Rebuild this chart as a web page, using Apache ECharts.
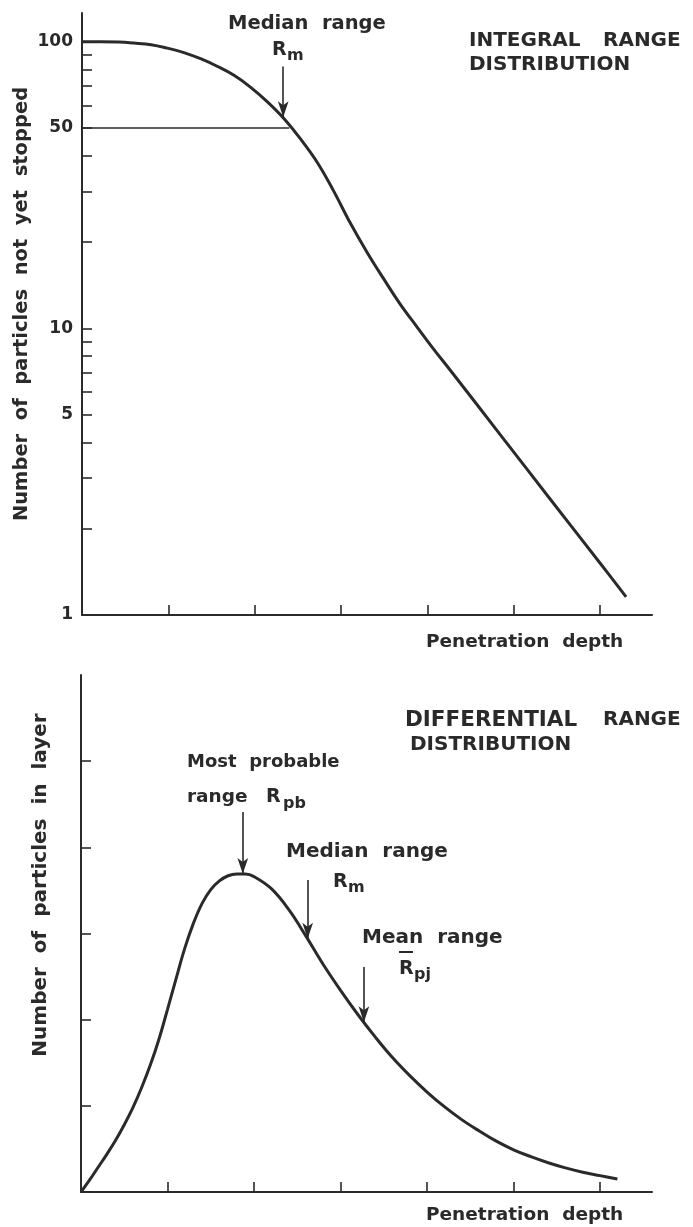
<!DOCTYPE html>
<html>
<head>
<meta charset="utf-8">
<script src="https://cdn.jsdelivr.net/npm/echarts@6/dist/echarts.min.js"></script>
<style>
  html, body { margin: 0; padding: 0; background: #ffffff; }
  #chart { width: 693px; height: 1227px; }
</style>
</head>
<body>
<div id="chart"></div>
<script>
// Integral range distribution: particles not yet stopped (log scale) vs penetration depth
const integralDepth = [0, 0.22, 0.42, 0.6, 0.8, 0.99, 1.18, 1.38, 1.57, 1.76, 1.95, 2.15, 2.34, 2.53, 2.73, 2.91, 3.1, 3.3,
                       3.49, 3.68, 3.88, 4.06, 4.26, 4.84, 5.42, 6.0, 6.3];
const integralCount = [100, 100, 99.8, 99.0, 97.7, 95.0, 91.7, 87.1, 82.0, 76.4, 69.5, 61.6, 53.9, 45.8, 37.7, 30.3, 23.5, 18.45,
                       14.94, 12.21, 10.11, 8.55, 7.17, 4.27, 2.54, 1.515, 1.157];

// Differential range distribution: particles stopped per layer vs penetration depth
const diffDepth = [0, 0.1, 0.2, 0.3, 0.4, 0.5, 0.6, 0.7, 0.8, 0.9, 1.0, 1.1, 1.2, 1.3, 1.4, 1.5, 1.6, 1.7, 1.8, 1.9, 2.0,
                   2.2, 2.4, 2.6, 2.8, 3.0, 3.2, 3.4, 3.6, 3.8, 4.0, 4.2, 4.4, 4.6, 4.8, 5.0, 5.2, 5.4, 5.6, 5.8, 6.0, 6.2];
const diffCount = [0, 0.14, 0.29, 0.44, 0.6, 0.78, 0.98, 1.21, 1.47, 1.77, 2.12, 2.48, 2.83, 3.12, 3.35, 3.51, 3.61, 3.67, 3.69, 3.69, 3.66,
                   3.52, 3.28, 2.97, 2.64, 2.34, 2.06, 1.8, 1.56, 1.35, 1.16, 0.99, 0.84, 0.71, 0.59, 0.49, 0.41, 0.34, 0.28, 0.23, 0.19, 0.15];

// Axis ticks and labels
const logTicks = [1, 2, 3, 4, 5, 6, 7, 8, 9, 10, 20, 30, 40, 50, 60, 70, 80, 90, 100];
const logLabels = [1, 5, 10, 50, 100];
const depthTicks = [1, 2, 3, 4, 5, 6];
const layerTicks = [1, 2, 3, 4, 5];

// Half level and where it meets the integral curve
const halfLevel = 50;
const halfDepth = 2.4;
// Arrows: depth, start value, value on the curve
const medianTop = { depth: 2.33, from: 82, to: 54.5 };
const rangeArrows = [
  { depth: 1.87, from: 4.41, to: 3.69 },  // most probable range
  { depth: 2.62, from: 3.62, to: 2.94 },  // median range
  { depth: 3.27, from: 2.61, to: 1.97 }   // mean range
];

const INK = '#2a2a2a';
const FONT = "'DejaVu Sans', sans-serif";

function pairs(xs, ys) { return xs.map((x, i) => [x, ys[i]]); }

function arrowLine(a) {
  return [
    { coord: [a.depth, a.from], symbol: 'none' },
    { coord: [a.depth, a.to], symbol: 'arrow', symbolSize: [8, 16] }
  ];
}

function txt(x, y, text, size, opts) {
  opts = opts || {};
  return {
    type: 'text', x: x, y: y, rotation: opts.rotation || 0, silent: true,
    style: {
      text: text, fill: INK,
      font: 'bold ' + size + 'px ' + FONT,
      textAlign: opts.align || 'left', textVerticalAlign: 'middle',
      align: opts.align || 'left', verticalAlign: 'middle'
    }
  };
}

const axisLineStyle = { color: INK, width: 2 };
const tickStyle = { color: INK, width: 1.6 };

const chart = echarts.init(document.getElementById('chart'), null, { renderer: 'canvas' });

chart.setOption({
  backgroundColor: '#ffffff',
  animation: false,
  grid: [
    { left: 82, right: 41, top: 13, bottom: 612 },
    { left: 81, right: 41, top: 675, bottom: 35 }
  ],
  xAxis: [0, 1].map(g => ({
    gridIndex: g, type: 'value', min: 0, max: 6.6,
    axisLine: { show: true, onZero: false, lineStyle: axisLineStyle },
    axisTick: { show: true, inside: true, length: 10, customValues: depthTicks, lineStyle: tickStyle },
    axisLabel: { show: false },
    splitLine: { show: false }
  })),
  yAxis: [
    {
      gridIndex: 0, type: 'log', logBase: 10, min: 1, max: 126,
      axisLine: { show: true, lineStyle: axisLineStyle },
      axisTick: { show: true, inside: true, length: 10, customValues: logTicks, lineStyle: tickStyle },
      axisLabel: {
        show: true, customValues: logLabels, margin: 9,
        color: INK, fontSize: 17, fontWeight: 'bold', fontFamily: FONT
      },
      splitLine: { show: false }, minorTick: { show: false }
    },
    {
      gridIndex: 1, type: 'value', min: 0, max: 6,
      axisLine: { show: true, lineStyle: axisLineStyle },
      axisTick: { show: true, inside: true, length: 10, customValues: layerTicks, lineStyle: tickStyle },
      axisLabel: { show: false },
      splitLine: { show: false }
    }
  ],
  series: [
    {
      type: 'line', xAxisIndex: 0, yAxisIndex: 0,
      data: pairs(integralDepth, integralCount),
      smooth: 0.4, showSymbol: false, silent: true,
      lineStyle: { color: INK, width: 3 },
      markLine: {
        silent: true, symbol: ['none', 'none'],
        label: { show: false },
        lineStyle: { color: INK, width: 1.6, type: 'solid' },
        data: [
          [{ coord: [0, halfLevel] }, { coord: [halfDepth, halfLevel] }],
          arrowLine(medianTop)
        ]
      }
    },
    {
      type: 'line', xAxisIndex: 1, yAxisIndex: 1,
      data: pairs(diffDepth, diffCount),
      smooth: 0.4, showSymbol: false, silent: true,
      lineStyle: { color: INK, width: 3 },
      markLine: {
        silent: true, symbol: ['none', 'none'],
        label: { show: false },
        lineStyle: { color: INK, width: 1.6, type: 'solid' },
        data: rangeArrows.map(arrowLine)
      }
    }
  ],
  graphic: [
    // upper panel
    txt(22, 304, 'Number  of  particles  not  yet  stopped', 19.5, { rotation: Math.PI / 2, align: 'center' }),
    txt(228, 24, 'Median  range', 19.5),
    txt(272, 50, 'R', 19),
    txt(287, 56, 'm', 16),
    txt(469, 41, 'INTEGRAL', 20),
    txt(603, 41, 'RANGE', 20),
    txt(469, 65, 'DISTRIBUTION', 20),
    txt(426, 642, 'Penetration  depth', 18.5),
    // lower panel
    txt(41, 885, 'Number  of  particles  in  layer', 20, { rotation: Math.PI / 2, align: 'center' }),
    txt(405, 720, 'DIFFERENTIAL', 21.5),
    txt(603, 720, 'RANGE', 20),
    txt(410, 745, 'DISTRIBUTION', 20),
    txt(187, 762, 'Most  probable', 18),
    txt(187, 797, 'range', 18.5),
    txt(266, 797, 'R', 19),
    txt(283, 804, 'pb', 16),
    txt(286, 852, 'Median  range', 20),
    txt(333, 882, 'R', 19),
    txt(348, 888, 'm', 16),
    txt(362, 938, 'Mean  range', 20),
    txt(399, 969, 'R', 19),
    txt(414, 975, 'pj', 16),
    { type: 'line', silent: true, shape: { x1: 399, y1: 952, x2: 413, y2: 952 }, style: { stroke: INK, lineWidth: 2 } },
    txt(426, 1215, 'Penetration  depth', 18.5)
  ]
});
</script>
</body>
</html>
